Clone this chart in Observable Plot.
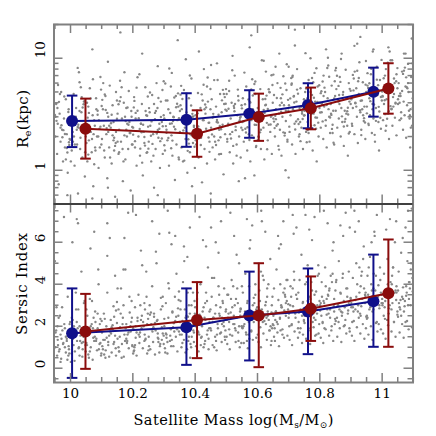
<!DOCTYPE html>
<html><head><meta charset="utf-8">
<script src="https://cdn.jsdelivr.net/npm/d3@7"></script>
<script src="https://cdn.jsdelivr.net/npm/@observablehq/plot@0.6"></script>
<style>
body{margin:0;background:#fff}
#c{position:relative;width:436px;height:436px;background:#fff}
#c svg{position:absolute;left:0;top:0}
</style>
</head><body><div id="c"></div>
<script>
// ---- summary points (satellite mass bins) ----
const massBlue = [10.005, 10.372, 10.574, 10.762, 10.972];
const massRed  = [10.048, 10.406, 10.604, 10.771, 11.020];
const reBlue   = [2.75, 2.83, 3.20, 3.83, 5.03];
const reBlueLo = [1.61, 1.62, 1.95, 2.37, 3.01];
const reBlueHi = [4.64, 4.87, 5.18, 5.98, 8.24];
const reRed    = [2.35, 2.12, 2.99, 3.58, 5.36];
const reRedLo  = [1.27, 1.32, 1.83, 2.32, 3.20];
const reRedHi  = [4.36, 3.43, 4.83, 5.47, 9.02];
const nBlue    = [1.67, 1.95, 2.51, 2.70, 3.19];
const nBlueLo  = [-0.46, 0.16, 0.37, 0.67, 1.02];
const nBlueHi  = [3.80, 3.80, 4.60, 4.75, 5.41];
const nRed     = [1.75, 2.30, 2.51, 2.83, 3.57];
const nRedLo   = [-0.03, 0.48, 0.05, 1.30, 1.02];
const nRedHi   = [3.54, 4.10, 5.00, 4.37, 6.13];

// ---- tick values ----
const xMajor = [10, 10.2, 10.4, 10.6, 10.8, 11];
const xMinor = [9.95,10.05,10.1,10.15,10.25,10.3,10.35,10.45,10.5,10.55,10.65,10.7,10.75,10.85,10.9,10.95,11.05,11.1];
const reMajor = [1, 10];
const reMinor = [0.5,0.6,0.7,0.8,0.9,2,3,4,5,6,7,8,9,20];
const nMajor = [0, 2, 4, 6];
const nMinor = [-0.5,0.5,1,1.5,2.5,3,3.5,4.5,5,5.5,6.5,7,7.5];

// ---- background galaxies: "mass value" pairs (read approximately) ----
const reGalaxies = `
9.951 2.0 9.954 3.9 9.957 1.4 9.959 2.6 9.962 0.75 9.965 3.2 9.968 1.8 9.970 5.0 9.973 2.3 9.976 1.2 9.979 2.9 9.982 1.6 9.985 4.3 9.988 2.1 9.991 0.95 9.994 3.5 9.997 1.9
10.002 3.0 10.004 1.5 10.007 2.2 10.010 4.8 10.013 1.1 10.015 2.7 10.018 3.6 10.021 1.7 10.024 0.62 10.026 2.4 10.029 6.1 10.032 1.95 10.035 3.3 10.038 1.3 10.041 2.5 10.043 4.1 10.046 0.88 10.049 2.0 10.023 8.2
10.051 2.6 10.054 1.2 10.057 3.7 10.059 1.85 10.062 5.4 10.065 2.2 10.068 1.45 10.071 3.1 10.073 0.72 10.076 2.8 10.079 1.6 10.082 4.4 10.085 2.0 10.087 3.4 10.090 1.05 10.093 2.35 10.096 6.8 10.099 1.7 10.070 12
10.101 1.9 10.104 3.5 10.107 2.5 10.110 1.3 10.112 4.6 10.115 2.1 10.118 0.85 10.121 3.0 10.124 1.6 10.126 5.7 10.129 2.4 10.132 1.15 10.135 3.8 10.138 2.7 10.140 1.5 10.143 0.58 10.146 2.2 10.149 4.2 10.120 9.3
10.151 3.2 10.154 1.4 10.156 2.3 10.159 6.3 10.162 1.8 10.165 2.9 10.168 0.8 10.171 4.0 10.173 2.05 10.176 1.25 10.179 3.6 10.182 2.6 10.185 1.55 10.187 5.1 10.190 2.15 10.193 0.66 10.196 3.0 10.199 1.7
10.201 2.4 10.204 4.5 10.207 1.6 10.209 2.9 10.212 1.1 10.215 3.4 10.218 2.0 10.221 7.2 10.223 1.35 10.226 2.6 10.229 3.9 10.232 0.9 10.235 2.2 10.237 1.75 10.240 5.5 10.243 3.1 10.246 1.45 10.249 2.45 10.230 11
10.251 1.8 10.254 3.3 10.256 2.5 10.259 1.2 10.262 4.7 10.265 2.1 10.268 0.7 10.271 2.85 10.273 1.55 10.276 6.0 10.279 3.6 10.282 1.95 10.285 2.35 10.287 1.05 10.290 4.1 10.293 2.7 10.296 1.4 10.299 3.1 10.280 8.5
10.301 2.9 10.303 1.5 10.306 4.2 10.308 2.3 10.311 1.85 10.314 3.5 10.316 1.1 10.319 2.6 10.322 5.6 10.324 2.05 10.327 1.35 10.330 3.0 10.332 2.45 10.335 0.82 10.338 4.6 10.340 1.7 10.343 2.8 10.346 3.7 10.348 1.25 10.325 7.4 10.344 14.5
10.351 2.2 10.353 3.8 10.356 1.6 10.359 2.75 10.361 1.2 10.364 5.2 10.367 2.4 10.369 1.9 10.372 3.3 10.375 0.95 10.377 2.6 10.380 4.4 10.383 1.45 10.385 2.1 10.388 6.6 10.391 3.0 10.393 1.75 10.396 2.5 10.399 1.05 10.370 9.8
10.401 3.1 10.403 1.7 10.406 2.5 10.409 4.9 10.411 1.3 10.414 2.2 10.417 3.6 10.419 1.95 10.422 0.78 10.425 2.8 10.427 5.8 10.430 1.55 10.433 3.2 10.435 2.35 10.438 1.15 10.441 4.1 10.443 2.65 10.446 1.8 10.449 3.5 10.428 8.0 10.412 11.5
10.451 2.4 10.453 4.3 10.456 1.6 10.459 3.0 10.461 2.0 10.464 1.25 10.467 3.7 10.469 2.7 10.472 6.4 10.475 1.85 10.477 2.3 10.480 4.8 10.483 1.4 10.485 3.3 10.488 2.55 10.491 0.92 10.493 3.9 10.496 2.1 10.499 5.3 10.470 9.0
10.501 3.4 10.503 1.9 10.506 2.6 10.509 5.1 10.511 1.45 10.514 2.9 10.517 4.0 10.519 2.2 10.522 1.15 10.525 3.6 10.527 7.0 10.530 2.45 10.533 1.7 10.535 3.1 10.538 4.6 10.541 2.0 10.543 2.8 10.546 1.3 10.549 3.8 10.520 10.5 10.540 0.8
10.551 2.7 10.553 4.4 10.556 1.8 10.559 3.3 10.561 2.35 10.564 5.6 10.567 1.5 10.569 3.0 10.572 2.1 10.575 4.1 10.577 1.2 10.580 2.8 10.583 6.5 10.585 3.5 10.588 1.95 10.591 2.55 10.593 4.8 10.596 1.65 10.599 3.2 10.575 12.5 10.590 0.9
10.601 3.6 10.603 2.0 10.606 2.9 10.609 5.3 10.611 1.55 10.614 3.2 10.617 4.3 10.619 2.4 10.622 1.25 10.625 3.8 10.627 7.6 10.630 2.65 10.633 1.85 10.635 3.4 10.638 5.0 10.641 2.2 10.643 3.0 10.646 1.4 10.649 4.0 10.620 9.5 10.636 2.55
10.651 2.9 10.653 4.7 10.656 2.0 10.659 3.5 10.661 2.5 10.664 6.0 10.667 1.65 10.669 3.2 10.672 2.3 10.675 4.4 10.677 1.35 10.680 3.0 10.683 6.9 10.685 3.8 10.688 2.15 10.691 2.75 10.693 5.2 10.696 1.8 10.699 3.4 10.670 11 10.690 1.0 10.658 8.4
10.701 3.8 10.703 2.2 10.706 3.1 10.709 5.8 10.711 1.7 10.714 3.5 10.717 4.6 10.719 2.6 10.722 1.4 10.725 4.1 10.727 8.0 10.730 2.85 10.733 2.0 10.735 3.6 10.738 5.4 10.741 2.4 10.743 3.2 10.746 1.55 10.749 4.3 10.720 13 10.737 2.7 10.712 6.8
10.751 3.1 10.753 5.0 10.756 2.2 10.759 3.8 10.761 2.7 10.764 6.4 10.767 1.8 10.769 3.4 10.772 2.5 10.775 4.7 10.777 1.5 10.780 3.2 10.783 7.4 10.785 4.1 10.788 2.35 10.791 2.95 10.793 5.6 10.796 2.0 10.799 3.6 10.770 10 10.790 1.2 10.760 4.4
10.801 4.0 10.803 2.4 10.806 3.3 10.809 6.2 10.811 1.9 10.814 3.7 10.817 5.0 10.819 2.8 10.822 1.6 10.825 4.4 10.827 8.6 10.830 3.0 10.833 2.15 10.835 3.9 10.838 5.7 10.841 2.55 10.843 3.4 10.846 1.7 10.849 4.6 10.820 12 10.836 3.2 10.812 7.0
10.851 3.4 10.853 5.3 10.856 2.4 10.859 4.1 10.861 2.9 10.864 6.8 10.867 2.0 10.869 3.6 10.872 2.7 10.875 5.0 10.877 1.65 10.880 3.4 10.883 7.9 10.885 4.4 10.888 2.5 10.891 3.15 10.893 6.0 10.896 2.2 10.899 3.9 10.870 11 10.890 1.35 10.862 4.7
10.901 4.3 10.903 2.6 10.906 3.6 10.909 6.6 10.911 2.1 10.914 4.0 10.917 5.4 10.919 3.0 10.922 1.75 10.925 4.8 10.927 9.2 10.930 3.3 10.933 2.3 10.935 4.2 10.938 6.1 10.941 2.75 10.943 3.7 10.946 1.9 10.949 5.0 10.920 13.5 10.936 3.5 10.912 7.6
10.951 3.7 10.953 5.7 10.956 2.6 10.959 4.4 10.961 3.1 10.964 7.2 10.967 2.15 10.969 3.9 10.972 2.9 10.975 5.3 10.977 1.8 10.980 3.6 10.983 8.4 10.985 4.7 10.988 2.7 10.991 3.35 10.993 6.4 10.996 2.35 10.999 4.2 10.970 11.5 10.990 1.5 10.962 5.0
11.001 4.6 11.003 2.8 11.006 3.9 11.009 7.0 11.011 2.25 11.014 4.3 11.017 5.8 11.019 3.2 11.022 1.9 11.025 5.1 11.027 9.6 11.030 3.5 11.033 2.5 11.035 4.5 11.038 6.6 11.041 2.95 11.043 4.0 11.046 2.05 11.049 5.4 11.020 12.5 11.036 3.7 11.012 8.0
11.051 3.9 11.053 6.0 11.056 2.8 11.059 4.6 11.061 3.3 11.064 7.6 11.067 2.3 11.069 4.1 11.072 3.1 11.075 5.6 11.077 1.95 11.080 3.8 11.083 8.9 11.085 5.0 11.088 2.9 11.091 3.5 11.093 6.8 11.096 2.5 11.098 4.4 11.070 11 11.090 1.6
10.16 17 10.58 16 10.72 18 10.93 15.5 10.45 0.62 10.07 0.56 10.28 0.6 10.56 0.85 10.70 0.86 9.99 0.6 10.12 0.7 10.39 0.72
`;

const reGalaxies2 = `
9.971 2.52 9.996 1.68 9.958 3.6 9.982 2.11 9.966 4.8 9.990 1.44 9.952 3.0 9.977 2.28 9.999 1.87 9.963 4.08 9.985 1.25 9.955 2.76 9.993 3.31 9.974 1.97 9.960 5.76 9.988 1.58 9.968 2.4 9.980 4.56 9.995 1.78 9.950 3.12
10.011 2.0 10.029 3.38 10.047 1.45 10.004 2.75 10.036 4.5 10.020 2.3 10.014 1.7 10.042 3.88 10.025 2.55 10.001 1.2 10.033 5.5 10.048 2.15 10.017 3.0 10.008 1.8 10.039 3.63 10.023 2.43 10.031 1.55 10.045 4.13 10.006 2.7 10.027 7.5
10.087 3.13 10.062 2.25 10.094 1.6 10.053 4.0 10.078 2.5 10.069 1.9 10.098 5.25 10.057 1.38 10.083 3.5 10.074 2.1 10.091 2.8 10.065 4.38 10.051 1.75 10.096 2.45 10.080 1.5 10.059 3.25 10.072 6.5 10.089 2.0 10.055 2.95 10.076 1.13
10.121 2.2 10.146 5.0 10.108 1.5 10.132 3.13 10.116 2.38 10.140 1.95 10.102 4.25 10.127 1.3 10.149 2.88 10.113 3.45 10.135 2.05 10.105 6.0 10.143 1.65 10.124 2.5 10.110 4.75 10.138 1.85 10.118 3.25 10.130 2.63 10.145 1.75 10.100 3.75
10.161 4.5 10.179 2.3 10.197 1.7 10.154 3.88 10.186 2.55 10.170 1.2 10.164 5.5 10.192 2.15 10.175 3.0 10.151 1.8 10.183 3.63 10.198 2.43 10.167 1.55 10.158 4.13 10.189 2.7 10.173 7.5 10.181 2.0 10.195 3.38 10.156 1.45 10.177 2.75
10.237 1.98 10.212 5.46 10.244 1.43 10.203 3.64 10.228 2.18 10.219 2.91 10.248 4.55 10.207 1.82 10.233 2.55 10.224 1.56 10.241 3.38 10.215 6.76 10.201 2.08 10.246 3.07 10.230 1.17 10.209 3.25 10.222 2.34 10.239 1.66 10.205 4.16 10.226 2.6
10.271 3.25 10.296 2.47 10.258 2.03 10.282 4.42 10.266 1.35 10.290 2.99 10.252 3.59 10.277 2.13 10.299 6.24 10.263 1.72 10.285 2.6 10.255 4.94 10.293 1.92 10.274 3.38 10.260 2.73 10.288 1.82 10.268 3.9 10.280 2.29 10.295 5.2 10.250 1.56
10.311 4.19 10.329 2.75 10.347 1.3 10.304 5.94 10.336 2.32 10.320 3.24 10.314 1.94 10.342 3.92 10.325 2.62 10.301 1.67 10.333 4.46 10.348 2.92 10.317 8.1 10.308 2.16 10.339 3.65 10.323 1.57 10.331 2.97 10.345 4.86 10.306 2.48 10.327 1.84
10.387 3.78 10.362 2.27 10.394 3.02 10.353 4.73 10.378 1.89 10.369 2.65 10.398 1.62 10.357 3.51 10.383 7.02 10.374 2.16 10.391 3.19 10.365 1.22 10.351 3.38 10.396 2.43 10.380 1.73 10.359 4.32 10.372 2.7 10.389 2.05 10.355 5.67 10.376 1.49
10.421 4.76 10.446 1.46 10.408 3.22 10.432 3.86 10.416 2.3 10.440 6.72 10.402 1.85 10.427 2.8 10.449 5.32 10.413 2.07 10.435 3.64 10.405 2.94 10.443 1.96 10.424 4.2 10.410 2.46 10.438 5.6 10.418 1.68 10.430 3.5 10.445 2.66 10.400 2.18
10.461 6.38 10.479 2.49 10.497 3.48 10.454 2.09 10.486 4.21 10.470 2.81 10.464 1.8 10.492 4.79 10.475 3.13 10.451 8.7 10.483 2.32 10.498 3.92 10.467 1.68 10.458 3.19 10.489 5.22 10.473 2.67 10.481 1.97 10.495 4.5 10.456 2.96 10.477 1.39
10.537 5.25 10.512 2.1 10.544 2.94 10.503 1.8 10.528 3.9 10.519 7.8 10.548 2.4 10.507 3.54 10.533 1.35 10.524 3.75 10.541 2.7 10.515 1.92 10.501 4.8 10.546 3.0 10.530 2.28 10.509 6.3 10.522 1.65 10.539 4.2 10.505 2.52 10.526 3.36
10.571 4.28 10.596 2.54 10.558 7.44 10.582 2.05 10.566 3.1 10.590 5.89 10.552 2.29 10.577 4.03 10.599 3.26 10.563 2.17 10.585 4.65 10.555 2.73 10.593 6.2 10.574 1.86 10.560 3.88 10.588 2.95 10.568 2.42 10.580 5.27 10.595 1.61 10.550 3.57
10.611 2.3 10.629 4.64 10.647 3.1 10.604 1.98 10.636 5.28 10.620 3.46 10.614 9.6 10.642 2.56 10.625 4.32 10.601 1.86 10.633 3.52 10.648 5.76 10.617 2.94 10.608 2.18 10.639 4.96 10.623 3.26 10.631 1.54 10.645 7.04 10.606 2.75 10.627 3.84
10.687 2.04 10.662 4.42 10.694 8.84 10.653 2.72 10.678 4.01 10.669 1.53 10.698 4.25 10.657 3.06 10.683 2.18 10.674 5.44 10.691 3.4 10.665 2.58 10.651 7.14 10.696 1.87 10.680 4.76 10.659 2.86 10.672 3.81 10.689 5.95 10.655 2.38 10.676 3.33
10.721 2.31 10.746 3.5 10.708 6.65 10.732 2.59 10.716 4.55 10.740 3.68 10.702 2.45 10.727 5.25 10.749 3.08 10.713 7.0 10.735 2.1 10.705 4.38 10.743 3.33 10.724 2.73 10.710 5.95 10.738 1.82 10.718 4.03 10.730 4.83 10.745 2.87 10.700 8.4
10.761 2.29 10.779 6.11 10.797 4.0 10.754 11.1 10.786 2.96 10.770 5.0 10.764 2.15 10.792 4.07 10.775 6.66 10.751 3.4 10.783 2.52 10.798 5.74 10.767 3.77 10.758 1.78 10.789 8.14 10.773 3.18 10.781 4.44 10.795 2.66 10.756 5.37 10.777 3.59
10.837 3.12 10.812 4.6 10.844 1.76 10.803 4.88 10.828 3.51 10.819 2.5 10.848 6.24 10.807 3.9 10.833 2.96 10.824 8.19 10.841 2.15 10.815 5.46 10.801 3.28 10.846 4.37 10.830 6.83 10.809 2.73 10.822 3.82 10.839 2.34 10.805 5.07 10.826 10.1
10.871 3.03 10.896 5.33 10.858 4.31 10.882 2.87 10.866 6.15 10.890 3.61 10.852 8.2 10.877 2.46 10.899 5.13 10.863 3.9 10.885 3.2 10.855 6.97 10.893 2.13 10.874 4.72 10.860 5.66 10.888 3.36 10.868 9.84 10.880 2.71 10.895 4.1 10.850 7.79
10.911 12.9 10.929 3.44 10.947 5.81 10.904 2.49 10.936 4.73 10.920 7.74 10.914 3.96 10.942 2.92 10.925 6.67 10.901 4.39 10.933 2.06 10.948 9.46 10.917 3.7 10.908 5.16 10.939 3.1 10.923 6.24 10.931 4.17 10.945 2.67 10.906 7.1 10.927 4.64
10.987 5.75 10.962 4.14 10.994 2.94 10.953 7.36 10.978 4.6 10.969 3.5 10.998 9.66 10.957 2.53 10.983 6.44 10.974 3.86 10.991 5.15 10.965 8.05 10.951 3.22 10.996 4.51 10.980 2.76 10.959 5.98 10.972 12.0 10.989 3.68 10.955 5.43 10.976 2.07
11.021 3.36 11.046 7.2 11.008 4.22 11.032 9.6 11.016 2.88 11.040 6.0 11.002 4.56 11.027 3.74 11.049 8.16 11.013 2.5 11.035 5.52 11.005 6.62 11.043 3.94 11.024 11.5 11.010 3.17 11.038 4.8 11.018 9.12 11.030 3.55 11.045 6.24 11.000 5.04
11.061 2.9 11.079 5.5 11.097 9.0 11.054 4.6 11.086 3.4 11.070 7.75 11.064 5.1 11.092 2.4 11.075 11.0 11.051 4.3 11.083 6.0 11.098 3.6 11.067 7.25 11.058 4.85 11.089 3.1 11.073 8.25 11.081 5.4 11.095 15 11.056 4.0 11.077 6.75
`;

const nGalaxies = `
9.951 1.0 9.954 1.8 9.957 0.6 9.959 1.35 9.962 2.4 9.965 0.9 9.968 1.6 9.970 0.45 9.973 2.9 9.976 1.15 9.979 7.2 9.982 1.9 9.985 0.75 9.988 1.4 9.991 3.4 9.994 1.05 9.997 2.1
10.002 1.5 10.004 0.7 10.007 2.3 10.010 1.1 10.013 0.35 10.015 1.75 10.018 2.8 10.021 1.3 10.024 6.9 10.026 0.95 10.029 2.0 10.032 1.55 10.035 4.6 10.038 0.55 10.041 1.25 10.043 3.1 10.046 1.85 10.049 0.8 10.020 7.1
10.051 1.2 10.054 2.5 10.057 0.65 10.059 1.65 10.062 3.3 10.065 1.0 10.068 2.1 10.071 0.4 10.073 1.45 10.076 6.5 10.079 2.7 10.082 1.3 10.085 0.85 10.087 1.9 10.090 4.0 10.093 1.15 10.096 2.35 10.099 0.7 10.064 5.7
10.101 1.7 10.104 0.9 10.107 2.6 10.110 1.35 10.112 0.5 10.115 2.0 10.118 3.6 10.121 1.1 10.124 1.55 10.126 6.2 10.129 2.3 10.132 0.75 10.135 1.85 10.138 2.95 10.140 1.25 10.143 4.4 10.146 0.6 10.149 2.15 10.118 6.9
10.151 1.4 10.154 2.8 10.156 0.8 10.159 1.95 10.162 3.8 10.165 1.15 10.168 2.4 10.171 0.55 10.173 1.6 10.176 4.7 10.179 2.1 10.182 1.3 10.185 7.4 10.187 0.95 10.190 2.65 10.193 1.75 10.196 3.2 10.199 1.05 10.170 4.7
10.201 1.9 10.204 0.85 10.207 2.9 10.209 1.45 10.212 0.6 10.215 2.25 10.218 3.5 10.221 1.2 10.223 1.7 10.226 5.6 10.229 2.5 10.232 0.95 10.235 2.0 10.237 3.1 10.240 1.35 10.243 4.6 10.246 0.7 10.249 2.35 10.210 7.3 10.238 1.6
10.251 1.5 10.254 3.0 10.256 0.9 10.259 2.1 10.262 3.9 10.265 1.25 10.268 2.6 10.271 0.65 10.273 1.8 10.276 5.0 10.279 2.3 10.282 1.4 10.285 6.4 10.287 1.05 10.290 2.8 10.293 1.95 10.296 3.4 10.299 1.15 10.262 7.0 10.280 1.65
10.301 2.0 10.303 0.95 10.306 3.1 10.308 1.6 10.311 0.7 10.314 2.4 10.316 3.8 10.319 1.3 10.322 1.85 10.324 5.9 10.327 2.7 10.330 1.05 10.332 2.15 10.335 3.4 10.338 1.5 10.340 4.5 10.343 0.8 10.346 2.5 10.348 1.75 10.312 7.5 10.336 6.3
10.351 1.6 10.353 3.2 10.356 1.0 10.359 2.25 10.361 4.1 10.364 1.35 10.367 2.8 10.369 0.75 10.372 1.95 10.375 5.3 10.377 2.45 10.380 1.5 10.383 6.7 10.385 1.15 10.388 3.0 10.391 2.05 10.393 3.6 10.396 1.25 10.399 2.6 10.364 5.8 10.384 0.5
10.401 2.2 10.403 1.05 10.406 3.3 10.409 1.75 10.411 0.8 10.414 2.55 10.417 4.0 10.419 1.45 10.422 2.0 10.425 6.1 10.427 2.9 10.430 1.15 10.433 2.3 10.435 3.6 10.438 1.6 10.441 4.8 10.443 0.9 10.446 2.7 10.449 1.9 10.414 7.2 10.432 3.1
10.451 1.8 10.453 3.4 10.456 1.1 10.459 2.4 10.461 4.3 10.464 1.5 10.467 3.0 10.469 0.85 10.472 2.1 10.475 5.5 10.477 2.6 10.480 1.65 10.483 7.0 10.485 1.25 10.488 3.2 10.491 2.2 10.493 3.8 10.496 1.35 10.499 2.8 10.466 6.0 10.486 2.4
10.501 2.3 10.503 1.15 10.506 3.5 10.509 1.85 10.511 0.9 10.514 2.65 10.517 4.2 10.519 1.55 10.522 2.1 10.525 6.3 10.527 3.0 10.530 1.25 10.533 2.4 10.535 3.8 10.538 1.7 10.541 5.0 10.543 1.0 10.546 2.85 10.549 2.0 10.513 7.4 10.531 3.3 10.545 2.5
10.551 1.95 10.553 3.6 10.556 1.2 10.559 2.55 10.561 4.5 10.564 1.6 10.567 3.1 10.569 0.95 10.572 2.2 10.575 5.7 10.577 2.75 10.580 1.75 10.583 6.8 10.585 1.35 10.588 3.35 10.591 2.35 10.593 4.0 10.596 1.45 10.599 2.9 10.566 7.1 10.586 2.6 10.573 3.9
10.601 2.45 10.603 1.25 10.606 3.7 10.609 1.95 10.611 1.0 10.614 2.8 10.617 4.4 10.619 1.65 10.622 2.25 10.625 6.5 10.627 3.15 10.630 1.35 10.633 2.5 10.635 4.0 10.638 1.8 10.641 5.2 10.643 1.1 10.646 3.0 10.649 2.1 10.612 7.5 10.631 3.4 10.645 2.65
10.651 2.05 10.653 3.8 10.656 1.3 10.659 2.7 10.661 4.7 10.664 1.7 10.667 3.25 10.669 1.05 10.672 2.35 10.675 5.9 10.677 2.9 10.680 1.85 10.683 7.0 10.685 1.45 10.688 3.5 10.691 2.5 10.693 4.2 10.696 1.55 10.699 3.05 10.666 6.3 10.686 2.75 10.673 4.0
10.701 2.6 10.703 1.35 10.706 3.9 10.709 2.05 10.711 1.1 10.714 2.95 10.717 4.6 10.719 1.75 10.722 2.4 10.725 6.7 10.727 3.3 10.730 1.45 10.733 2.65 10.735 4.2 10.738 1.9 10.741 5.4 10.743 1.2 10.746 3.15 10.749 2.25 10.713 7.3 10.731 3.6 10.745 2.8
10.751 2.15 10.753 4.0 10.756 1.4 10.759 2.85 10.761 4.9 10.764 1.8 10.767 3.4 10.769 1.15 10.772 2.5 10.775 6.1 10.777 3.05 10.780 1.95 10.783 7.2 10.785 1.55 10.788 3.65 10.791 2.6 10.793 4.4 10.796 1.65 10.799 3.2 10.766 6.6 10.786 2.9 10.773 4.1
10.801 2.75 10.803 1.45 10.806 4.1 10.809 2.15 10.811 1.2 10.814 3.1 10.817 4.8 10.819 1.85 10.822 2.55 10.825 6.9 10.827 3.45 10.830 1.55 10.833 2.8 10.835 4.4 10.838 2.0 10.841 5.6 10.843 1.3 10.846 3.3 10.849 2.35 10.813 7.5 10.831 3.8 10.845 2.95
10.851 2.25 10.853 4.2 10.856 1.5 10.859 3.0 10.861 5.1 10.864 1.9 10.867 3.55 10.869 1.25 10.872 2.65 10.875 6.3 10.877 3.2 10.880 2.05 10.883 7.4 10.885 1.65 10.888 3.8 10.891 2.75 10.893 4.6 10.896 1.75 10.899 3.35 10.866 6.8 10.886 3.0 10.873 4.3
10.901 2.9 10.903 1.55 10.906 4.3 10.909 2.25 10.911 1.3 10.914 3.25 10.917 5.0 10.919 1.95 10.922 2.7 10.925 7.0 10.927 3.6 10.930 1.65 10.933 2.95 10.935 4.6 10.938 2.1 10.941 5.8 10.943 1.4 10.946 3.45 10.949 2.45 10.913 6.5 10.931 3.9 10.945 3.1
10.951 2.35 10.953 4.4 10.956 1.6 10.959 3.1 10.961 5.3 10.964 2.0 10.967 3.7 10.969 1.35 10.972 2.8 10.975 6.5 10.977 3.3 10.980 2.15 10.983 7.3 10.985 1.75 10.988 3.95 10.991 2.85 10.993 4.8 10.996 1.85 10.999 3.5 10.966 6.0 10.986 3.15 10.973 4.5
11.001 3.0 11.003 1.65 11.006 4.5 11.009 2.35 11.011 1.4 11.014 3.4 11.017 5.2 11.019 2.05 11.022 2.85 11.025 7.1 11.027 3.75 11.030 1.75 11.033 3.1 11.035 4.8 11.038 2.2 11.041 6.0 11.043 1.5 11.046 3.6 11.049 2.55 11.013 6.6 11.031 4.0 11.045 3.25
11.051 2.45 11.053 4.6 11.056 1.7 11.059 3.25 11.061 5.5 11.064 2.1 11.067 3.85 11.069 1.45 11.072 2.95 11.075 6.7 11.077 3.45 11.080 2.25 11.083 7.5 11.085 1.85 11.088 4.1 11.091 3.0 11.093 5.0 11.096 1.95 11.098 3.65 11.066 6.2 11.086 3.3
`;

const nGalaxies2 = `
9.971 1.4 9.996 0.7 9.958 2.0 9.982 1.0 9.966 2.5 9.990 0.4 9.952 1.7 9.977 1.2 9.999 2.2 9.963 0.8 9.985 1.5 9.955 2.9 9.993 0.6 9.974 1.8 9.960 1.1 9.988 1.3 9.968 0.3 9.980 2.1 9.995 0.9 9.950 5.1
10.011 2.0 10.029 0.6 10.047 1.7 10.004 2.4 10.036 1.2 10.020 2.2 10.014 0.8 10.042 1.5 10.025 2.8 10.001 0.3 10.033 1.8 10.048 1.1 10.017 3.6 10.008 1.4 10.039 0.9 10.023 1.9 10.031 1.3 10.045 3.2 10.006 6.0 10.027 1.0
10.087 2.6 10.062 0.8 10.094 2.1 10.053 1.1 10.078 1.5 10.069 3.2 10.098 0.6 10.057 1.7 10.083 1.4 10.074 2.4 10.091 0.9 10.065 2.0 10.051 2.8 10.096 1.2 10.080 2.2 10.059 0.5 10.072 1.9 10.089 4.7 10.055 1.8 10.076 1.3
10.121 1.25 10.146 2.75 10.108 0.65 10.132 1.95 10.116 1.45 10.140 2.45 10.102 1.05 10.127 1.75 10.149 3.15 10.113 0.85 10.135 2.05 10.105 1.35 10.143 1.55 10.124 0.55 10.110 2.35 10.138 1.15 10.118 5.35 10.130 1.65 10.145 0.95 10.100 2.25
10.161 2.6 10.179 1.4 10.197 2.4 10.154 1.0 10.186 1.7 10.170 3.0 10.164 0.5 10.192 2.0 10.175 1.3 10.151 3.8 10.183 1.6 10.198 1.1 10.167 2.1 10.158 1.5 10.189 3.4 10.173 6.2 10.181 1.2 10.195 2.2 10.156 0.8 10.177 1.9
10.237 1.3 10.212 1.7 10.244 3.4 10.203 0.8 10.228 1.9 10.219 1.6 10.248 2.6 10.207 1.1 10.233 2.2 10.224 3.0 10.241 1.4 10.215 2.4 10.201 0.7 10.246 2.1 10.230 4.9 10.209 2.0 10.222 1.5 10.239 2.8 10.205 1.0 10.226 2.3
10.271 2.15 10.296 1.65 10.258 2.65 10.282 1.25 10.266 1.95 10.290 3.35 10.252 1.05 10.277 2.25 10.299 1.55 10.263 1.75 10.285 0.75 10.255 2.55 10.293 1.35 10.274 5.55 10.260 1.85 10.288 1.15 10.268 2.45 10.280 1.45 10.295 2.95 10.250 0.85
10.311 1.25 10.329 1.95 10.347 3.25 10.304 0.75 10.336 2.25 10.320 1.55 10.314 4.05 10.342 1.85 10.325 1.35 10.301 2.35 10.333 1.75 10.348 3.65 10.317 6.45 10.308 1.45 10.339 2.45 10.323 1.05 10.331 2.15 10.345 2.85 10.306 1.65 10.327 2.65
10.387 1.0 10.362 2.1 10.394 1.8 10.353 2.8 10.378 1.3 10.369 2.4 10.398 3.2 10.357 1.6 10.383 2.6 10.374 0.9 10.391 2.3 10.365 5.1 10.351 2.2 10.396 1.7 10.380 3.0 10.359 1.2 10.372 2.5 10.389 1.5 10.355 1.9 10.376 3.6
10.421 1.5 10.446 2.2 10.408 3.6 10.432 1.3 10.416 2.5 10.440 1.8 10.402 2.0 10.427 1.0 10.449 2.8 10.413 1.6 10.435 5.8 10.405 2.1 10.443 1.4 10.424 2.7 10.410 1.7 10.438 3.2 10.418 1.1 10.430 2.4 10.445 1.9 10.400 2.9
10.461 1.0 10.479 2.5 10.497 1.8 10.454 4.3 10.486 2.1 10.470 1.6 10.464 2.6 10.492 2.0 10.475 3.9 10.451 6.7 10.483 1.7 10.498 2.7 10.467 1.3 10.458 2.4 10.489 3.1 10.473 1.9 10.481 2.9 10.495 1.5 10.456 2.2 10.477 3.5
10.537 3.1 10.512 1.6 10.544 2.7 10.503 3.5 10.528 1.9 10.519 2.9 10.548 1.2 10.507 2.6 10.533 5.4 10.524 2.5 10.541 2.0 10.515 3.3 10.501 1.5 10.546 2.8 10.530 1.8 10.509 2.2 10.522 3.9 10.539 1.3 10.505 2.4 10.526 2.1
10.571 1.6 10.596 2.8 10.558 2.1 10.582 2.3 10.566 1.3 10.590 3.1 10.552 1.9 10.577 6.1 10.599 2.4 10.563 1.7 10.585 3.0 10.555 2.0 10.593 3.5 10.574 1.4 10.560 2.7 10.588 2.2 10.568 3.2 10.580 1.8 10.595 2.5 10.550 3.9
10.611 4.6 10.629 2.4 10.647 1.9 10.604 2.9 10.636 2.3 10.620 4.2 10.614 7.0 10.642 2.0 10.625 3.0 10.601 1.6 10.633 2.7 10.648 3.4 10.617 2.2 10.608 3.2 10.639 1.8 10.623 2.5 10.631 3.8 10.645 1.3 10.606 2.8 10.627 2.1
10.687 3.8 10.662 2.2 10.694 3.2 10.653 1.5 10.678 2.9 10.669 5.7 10.698 2.8 10.657 2.3 10.683 3.6 10.674 1.8 10.691 3.1 10.665 2.1 10.651 2.5 10.696 4.2 10.680 1.6 10.659 2.7 10.672 2.4 10.689 3.4 10.655 1.9 10.676 3.0
10.721 2.6 10.746 1.6 10.708 3.4 10.732 2.2 10.716 6.4 10.740 2.7 10.702 2.0 10.727 3.3 10.749 2.3 10.713 3.8 10.735 1.7 10.705 3.0 10.743 2.5 10.724 3.5 10.710 2.1 10.738 2.8 10.718 4.2 10.730 1.9 10.745 3.1 10.700 2.4
10.761 3.2 10.779 2.6 10.797 4.5 10.754 7.3 10.786 2.3 10.770 3.3 10.764 1.9 10.792 3.0 10.775 3.7 10.751 2.5 10.783 3.5 10.798 2.1 10.767 2.8 10.758 4.1 10.789 1.6 10.773 3.1 10.781 2.4 10.795 4.9 10.756 2.7 10.777 2.2
10.837 1.8 10.812 3.2 10.844 6.0 10.803 3.1 10.828 2.6 10.819 3.9 10.848 2.1 10.807 3.4 10.833 2.4 10.824 2.8 10.841 4.5 10.815 1.9 10.801 3.0 10.846 2.7 10.830 3.7 10.809 2.2 10.822 3.3 10.839 4.1 10.805 2.5 10.826 3.5
10.871 2.5 10.896 6.7 10.858 3.0 10.882 2.3 10.866 3.6 10.890 2.6 10.852 4.1 10.877 2.0 10.899 3.3 10.863 2.8 10.885 3.8 10.855 2.4 10.893 3.1 10.874 4.5 10.860 2.2 10.888 3.4 10.868 2.7 10.880 2.9 10.895 1.9 10.850 3.7
10.911 7.5 10.929 2.6 10.947 3.6 10.904 2.2 10.936 3.3 10.920 4.0 10.914 2.8 10.942 3.8 10.925 2.4 10.901 3.1 10.933 4.4 10.948 1.9 10.917 3.4 10.908 2.7 10.939 5.2 10.923 3.0 10.931 2.5 10.945 3.5 10.906 2.9 10.927 4.8
10.987 3.4 10.962 2.9 10.994 4.2 10.953 2.4 10.978 3.7 10.969 2.7 10.998 3.1 10.957 4.8 10.983 2.2 10.974 3.3 10.991 3.0 10.965 4.0 10.951 2.5 10.996 3.6 10.980 4.4 10.959 2.8 10.972 3.8 10.989 2.1 10.955 3.5 10.976 6.3
11.021 2.6 11.046 3.9 11.008 2.9 11.032 4.4 11.016 2.3 11.040 3.6 11.002 3.1 11.027 4.1 11.049 2.7 11.013 3.4 11.035 4.8 11.005 2.5 11.043 3.7 11.024 3.0 11.010 3.2 11.038 2.2 11.018 4.0 11.030 2.8 11.045 7.0 11.000 3.3
11.061 2.5 11.079 3.6 11.097 4.3 11.054 3.1 11.086 4.1 11.070 2.7 11.064 3.4 11.092 4.7 11.075 2.2 11.051 3.7 11.083 3.0 11.098 5.5 11.067 3.3 11.058 2.8 11.089 3.8 11.073 3.2 11.081 5.1 11.095 7.6 11.056 2.9 11.077 3.9
`;

function parsePairs(s) {
  const a = s.trim().split(/\s+/).map(Number);
  const out = [];
  for (let i = 0; i + 1 < a.length; i += 2) out.push({mass: a[i], v: a[i + 1]});
  return out;
}
const reScatter = parsePairs(reGalaxies).concat(parsePairs(reGalaxies2));
const nScatter = parsePairs(nGalaxies).concat(parsePairs(nGalaxies2));

const rows = (m, v, lo, hi) => m.map((x, i) => ({mass: x, v: v[i], lo: lo[i], hi: hi[i]}));

const BLUE = "#10108a", RED = "#8a0c0c", GRID = "#808080", DOT = "#878787";
const W = 436, H = 436, mL = 53.5, mR = 23.5;
const fw = W - mL - mR;
const xDomain = [9.947, 11.099];
const cap = 0.017;

function seriesMarks(r, c) {
  return [
    Plot.line(r, {x: "mass", y: "v", stroke: c, strokeWidth: 2}),
    Plot.ruleX(r, {x: "mass", y1: "lo", y2: "hi", stroke: c, strokeWidth: 2}),
    Plot.link(r, {x1: d => d.mass - cap, x2: d => d.mass + cap, y1: "hi", y2: "hi", stroke: c, strokeWidth: 2}),
    Plot.link(r, {x1: d => d.mass - cap, x2: d => d.mass + cap, y1: "lo", y2: "lo", stroke: c, strokeWidth: 2}),
    Plot.dot(r, {x: "mass", y: "v", r: 6, fill: c, stroke: null})
  ];
}

function tickMarks(fh, yMaj, yMin) {
  const s = {stroke: GRID, strokeWidth: 1.5};
  return [
    Plot.tickX(xMajor, {x: d => d, insetTop: fh - 9, ...s}),
    Plot.tickX(xMajor, {x: d => d, insetBottom: fh - 9, ...s}),
    Plot.tickX(xMinor, {x: d => d, insetTop: fh - 5, ...s}),
    Plot.tickX(xMinor, {x: d => d, insetBottom: fh - 5, ...s}),
    Plot.tickY(yMaj, {y: d => d, insetRight: fw - 9, ...s}),
    Plot.tickY(yMaj, {y: d => d, insetLeft: fw - 9, ...s}),
    Plot.tickY(yMin, {y: d => d, insetRight: fw - 5, ...s}),
    Plot.tickY(yMin, {y: d => d, insetLeft: fw - 5, ...s})
  ];
}

const common = {
  width: W, height: H, marginLeft: mL, marginRight: mR,
  style: {background: "transparent", overflow: "visible", fontFamily: "DejaVu Serif", fontSize: "13px", color: "black"}
};

const topTop = 24, split = 203.5, botBottom = 382;

const topPlot = Plot.plot({
  ...common,
  marginTop: topTop, marginBottom: H - split,
  x: {domain: xDomain, axis: null},
  y: {type: "log", domain: [0.5, 20], axis: null},
  marks: [
    Plot.dot(reScatter, {x: "mass", y: "v", r: 1.2, fill: DOT, stroke: null}),
    ...seriesMarks(rows(massBlue, reBlue, reBlueLo, reBlueHi), BLUE),
    ...seriesMarks(rows(massRed, reRed, reRedLo, reRedHi), RED),
    ...tickMarks(split - topTop, reMajor, reMinor),
    Plot.frame({stroke: GRID, strokeWidth: 2}),
    Plot.text(reMajor, {y: d => d, text: d => String(d), frameAnchor: "left", dx: -13, rotate: -90, fontSize: 13.5})
  ]
});

const botPlot = Plot.plot({
  ...common,
  marginTop: split, marginBottom: H - botBottom,
  x: {domain: xDomain, axis: null},
  y: {domain: [-0.68, 7.82], axis: null},
  marks: [
    Plot.dot(nScatter, {x: "mass", y: "v", r: 1.2, fill: DOT, stroke: null}),
    ...seriesMarks(rows(massBlue, nBlue, nBlueLo, nBlueHi), BLUE),
    ...seriesMarks(rows(massRed, nRed, nRedLo, nRedHi), RED),
    ...tickMarks(botBottom - split, nMajor, nMinor),
    Plot.frame({stroke: GRID, strokeWidth: 2}),
    Plot.ruleY([7.82], {stroke: "black", strokeWidth: 1.2}),
    Plot.text(nMajor, {y: d => d, text: d => String(d), frameAnchor: "left", dx: -13, rotate: -90, fontSize: 13.5}),
    Plot.text(xMajor, {x: d => d, text: d => String(d), frameAnchor: "bottom", dy: 15, fontSize: 13.5})
  ]
});

const c = document.getElementById("c");
c.appendChild(topPlot);
c.appendChild(botPlot);

// axis titles with subscripts
const svg = d3.select(botPlot);
const xl = svg.append("text").attr("x", 233.5).attr("y", 425)
  .attr("text-anchor", "middle").attr("font-size", 14.5).attr("font-family", "DejaVu Serif").attr("fill", "black")
  .attr("textLength", 200).attr("lengthAdjust", "spacing");
xl.append("tspan").text("Satellite Mass log(M");
xl.append("tspan").attr("font-size", 9).attr("dy", 3).text("s");
xl.append("tspan").attr("dy", -3).text("/M");
xl.append("tspan").attr("font-size", 9).attr("dy", 3).text("⊙");
xl.append("tspan").attr("dy", -3).text(")");

const yl1 = svg.append("text").attr("transform", "translate(28,119) rotate(-90)")
  .attr("text-anchor", "middle").attr("font-size", 15).attr("font-family", "DejaVu Serif").attr("fill", "black")
  .attr("textLength", 58).attr("lengthAdjust", "spacing");
yl1.append("tspan").text("R");
yl1.append("tspan").attr("font-size", 9.5).attr("dy", 3).text("e");
yl1.append("tspan").attr("dy", -3).text("(kpc)");

svg.append("text").attr("transform", "translate(27,284) rotate(-90)")
  .attr("text-anchor", "middle").attr("font-size", 15).attr("font-family", "DejaVu Serif").attr("fill", "black")
  .attr("textLength", 102).attr("lengthAdjust", "spacing")
  .text("Sersic Index");
</script>
</body></html>
